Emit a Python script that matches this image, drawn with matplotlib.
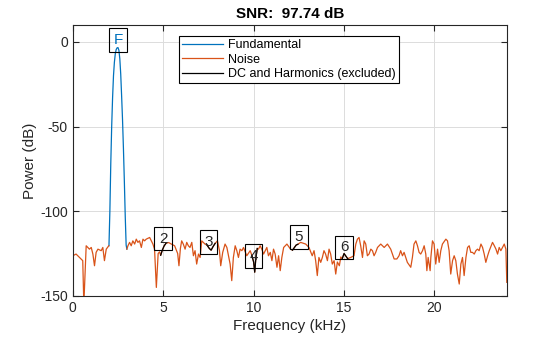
import numpy as np
import matplotlib
matplotlib.use("Agg")
import matplotlib.pyplot as plt

plt.rcParams['font.family'] = ['Liberation Sans', 'DejaVu Sans']
plt.rcParams['axes.unicode_minus'] = False

# values (kHz, dB)
fund_khz = [2.00, 2.05, 2.10, 2.15, 2.20, 2.25, 2.30, 2.35, 2.40, 2.45, 2.50,
            2.55, 2.60, 2.65, 2.70, 2.75, 2.80, 2.85, 2.90, 2.95, 2.99]
fund_db = [-120.4, -100, -72, -50, -33, -20, -12, -7, -4.5, -3.5, -3.4,
           -5, -10, -19, -32, -46, -63, -82, -103, -120, -122.4]

noise_left_khz = [0.00, 0.18, 0.37, 0.55, 0.61, 0.74, 0.92, 1.02, 1.11, 1.20,
                  1.29, 1.39, 1.57, 1.66, 1.75, 1.85, 1.99]
noise_left_db = [-126.3, -125.3, -127.3, -129.2, -155, -120.4, -122.4, -121.4,
                 -125.3, -132.2, -124.3, -122.4, -123.3, -121.4, -129.2,
                 -122.4, -120.4]

noise_right_khz = [2.99, 3.05, 3.14, 3.23, 3.32, 3.42, 3.51, 3.60, 3.69, 3.79,
                   3.88, 3.97, 4.06, 4.25, 4.43, 4.52, 4.62, 4.72, 4.80,
                   5.30, 5.45, 5.63, 5.80, 5.87, 5.95, 6.02, 6.11, 6.21, 6.30,
                   6.39, 6.48, 6.58, 6.67, 6.76, 6.85, 6.95, 7.04, 7.13, 7.31,
                   8.00, 8.11, 8.18, 8.29, 8.42, 8.52, 8.61, 8.70, 8.79, 8.88,
                   8.98, 9.07, 9.16, 9.25, 9.35, 9.44, 9.62, 9.81,
                   10.27, 10.36, 10.45, 10.55, 10.64, 10.73, 10.82, 10.92,
                   11.01, 11.10, 11.19, 11.29, 11.38, 11.47, 11.56, 11.66,
                   11.84, 11.95, 12.04,
                   12.60, 12.88, 13.06, 13.24, 13.34, 13.43, 13.52, 13.61,
                   13.71, 13.80, 13.89, 13.98, 14.08, 14.17, 14.26, 14.35,
                   14.45, 14.54, 14.63, 14.74, 14.82,
                   15.37, 15.55, 15.65, 15.74, 15.83, 15.92, 16.02, 16.11,
                   16.20, 16.29, 16.38, 16.48, 16.57, 16.66, 16.75, 16.85,
                   17.03, 17.22, 17.40, 17.58, 17.77, 17.92, 18.04, 18.13,
                   18.23, 18.32, 18.41, 18.50, 18.69, 18.78, 18.87, 18.97,
                   19.06, 19.15, 19.24, 19.34, 19.43, 19.52, 19.58, 19.65,
                   19.76, 19.80, 19.89, 19.98, 20.07, 20.17, 20.26, 20.35,
                   20.44, 20.63, 20.72, 20.81, 20.90, 21.00, 21.09, 21.18,
                   21.27, 21.37, 21.46, 21.55, 21.64, 21.74, 21.83, 21.92,
                   22.01, 22.10, 22.20, 22.29, 22.38, 22.47, 22.57, 22.66,
                   22.75, 22.84, 22.94, 23.03, 23.21, 23.31, 23.40, 23.49,
                   23.58, 23.67, 23.86, 23.95, 24.00]
noise_right_db = [-122.4, -120.4, -118.4, -120.4, -117.5, -119.4, -116.5, -118.4,
                  -117.5, -121.4, -116.5, -117.5, -116.5, -115.5, -119.4, -122.4,
                  -145.0, -125.0, -124.0,
                  -118.5, -119.4, -120.4, -125.0, -132.2, -122.0, -117.5, -119.4,
                  -122.4, -118.4, -120.4, -121.4, -118.4, -126.3, -123.3, -131.2,
                  -125.3, -127.3, -117.5, -119.4,
                  -117.5, -123.3, -132.2, -124.3, -119.4, -121.4, -126.3, -131.2,
                  -141.0, -127.3, -120.4, -123.3, -127.3, -122.4, -123.3, -121.4,
                  -126.3, -123.3,
                  -122.4, -120.4, -122.4, -125.3, -123.3, -121.4, -126.3, -124.3,
                  -129.2, -122.4, -125.3, -133.1, -126.3, -135.1, -127.3, -121.4,
                  -119.4, -121.0, -122.4,
                  -118.4, -119.4, -121.4, -126.3, -123.3, -129.2, -138.0, -127.3,
                  -130.2, -127.3, -123.3, -125.3, -129.2, -122.4, -125.3, -131.2,
                  -129.2, -137.1, -130.0, -132.2, -127.0,
                  -127.3, -126.3, -119.4, -116.5, -115.5, -120.4, -127.3, -117.5,
                  -119.4, -126.3, -125.3, -122.4, -123.3, -126.3, -124.3, -121.4,
                  -119.4, -121.4, -119.4, -122.4, -128.2, -128.2, -126.3, -123.3,
                  -126.3, -124.3, -127.3, -130.2, -133.1, -127.3, -119.4, -117.5,
                  -120.4, -124.3, -125.3, -123.3, -120.4, -125.3, -135.1, -127.3,
                  -135.1, -127.3, -117.5, -119.4, -131.2, -122.4, -130.2, -123.3,
                  -119.4, -116.5, -117.5, -123.3, -137.1, -129.2, -126.3, -129.2,
                  -137.1, -143.0, -131.2, -127.3, -138.0, -127.3, -121.4, -120.4,
                  -124.3, -124.3, -125.3, -123.3, -122.4, -123.3, -119.4, -121.4,
                  -125.3, -130.2, -126.3, -123.3, -118.4, -120.4, -122.4, -125.3,
                  -121.4, -123.3, -119.4, -122.4, -142.0]

# harmonics 2..6 (excluded bins)
harm_order = [2, 3, 4, 5, 6]
harm_khz = [[4.86, 4.95, 5.05, 5.15],
            [7.42, 7.55, 7.65, 7.75, 7.87],
            [9.90, 10.00, 10.06, 10.12, 10.20],
            [12.15, 12.25, 12.35, 12.45],
            [14.90, 15.00, 15.10, 15.20]]
harm_db = [[-126, -123, -120.5, -119],
           [-120, -122, -123, -121, -119],
           [-126, -130, -136, -128, -122],
           [-123, -121.5, -120, -119.5],
           [-128, -125, -126.5, -128]]
harm_label_db = [-120.4, -122.3, -130.6, -119.4, -125.4]
fund_label_khz = 2.5
fund_label_db = -3.0
snr_db = 97.74

blue = '#0072BD'
orange = '#D95319'

fig = plt.figure(figsize=(5.6, 3.37), dpi=100)
ax = fig.add_axes([0.130, 0.122, 0.775, 0.804])

# merge noise and harmonic bins into one orange trace, broken at the fundamental
all_khz = list(noise_right_khz)
all_db = list(noise_right_db)
for hk, hd in zip(harm_khz, harm_db):
    all_khz += hk
    all_db += hd
order = np.argsort(all_khz)
right_khz = np.array(all_khz)[order]
right_db = np.array(all_db)[order]
nx = np.concatenate([noise_left_khz, [np.nan], right_khz])
ny = np.concatenate([noise_left_db, [np.nan], right_db])

ax.plot(fund_khz, fund_db, color=blue, lw=0.9, label='Fundamental')
ax.plot(nx, ny, color=orange, lw=0.9, label='Noise')
for i, (hk, hd) in enumerate(zip(harm_khz, harm_db)):
    ax.plot(hk, hd, color='black', lw=0.9,
            label='DC and Harmonics (excluded)' if i == 0 else None)

box = dict(boxstyle='square,pad=0.3', fc='none', ec='black', lw=0.8)
ax.text(fund_label_khz, fund_label_db, 'F', color=blue, fontsize=11,
        ha='center', va='bottom', bbox=box)
for n, d in zip(harm_order, harm_label_db):
    ax.text(n * fund_label_khz, d, str(n), color='#262626', fontsize=11,
            ha='center', va='bottom', bbox=box)

ax.set_xlim(0, 24)
ax.set_ylim(-150, 10)
ax.set_xticks([0, 5, 10, 15, 20])
ax.set_yticks([-150, -100, -50, 0])
ax.grid(True, color='#dcdcdc', lw=0.7)
ax.set_axisbelow(True)
ax.tick_params(direction='in', top=True, right=True, labelsize=10,
               colors='#262626', length=4)
for s in ax.spines.values():
    s.set_color('#262626')
    s.set_linewidth(0.8)

ax.set_xlabel('Frequency (kHz)', fontsize=11, color='#262626', labelpad=3)
ax.set_ylabel('Power (dB)', fontsize=11, color='#262626', labelpad=2)
ax.set_title('SNR:  %.2f dB' % snr_db, fontsize=11, fontweight='bold',
             pad=5)

leg = ax.legend(loc='upper left', bbox_to_anchor=(0.244, 0.959), fontsize=9,
                fancybox=False, framealpha=1, edgecolor='black',
                handlelength=3.3, borderpad=0.25, labelspacing=0.2,
                handletextpad=0.4, borderaxespad=0)
leg.get_frame().set_linewidth(0.8)

fig.savefig('out.png', dpi=100)
